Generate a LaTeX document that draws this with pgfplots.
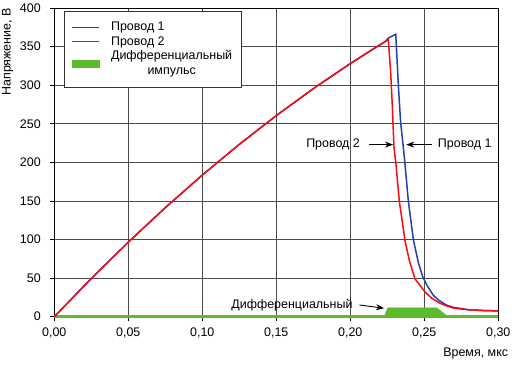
\documentclass[border=0pt]{standalone}
\usepackage{fontspec}
\setmainfont{Liberation Sans}
\usepackage{pgfplots}
\pgfplotsset{compat=1.18}
\usetikzlibrary{arrows.meta}
\definecolor{pblue}{RGB}{35,65,170}
\definecolor{pred}{RGB}{250,10,20}
\definecolor{pgreen}{RGB}{90,187,45}
\begin{document}
\begin{tikzpicture}[font=\fontsize{12.5}{15}\selectfont]
\begin{axis}[
  scale only axis, width=444bp, height=308.7bp,
  xmin=0, xmax=0.3, ymin=0, ymax=400,
  xtick={0,0.05,0.1,0.15,0.2,0.25,0.3},
  ytick={0,50,100,150,200,250,300,350,400},
  grid=major, major grid style={black!70, line width=0.6bp},
  axis line style={black, line width=0.6bp},
  tick align=outside, tick pos=left, major tick length=4bp,
  tick style={black, line width=0.6bp},
  scaled x ticks=false,
  xticklabel style={/pgf/number format/.cd, fixed, fixed zerofill, precision=2, use comma, assume math mode=true, /tikz/.cd, yshift=-4bp},
  yticklabel style={/pgf/number format/assume math mode=true, xshift=-6bp},
  xlabel={Время, мкс}, ylabel={Напряжение, В},
  xlabel style={at={(axis description cs:1.0225,-0.119)}, anchor=east, inner sep=0pt},
  ylabel style={at={(axis description cs:-0.092,1)}, anchor=south east, inner sep=0pt},
  legend style={at={(axis description cs:0.0218,0.99)}, anchor=north west, draw=black!80, line width=0.6bp, fill=white,
    font=\fontsize{12.5}{15}\selectfont, cells={align=center}, row sep=0bp, inner xsep=7bp, inner ysep=9bp},
  legend cell align=left,
  legend image code/.code={\draw[#1, line width=1.8bp] (0bp,0bp) -- (27bp,0bp);},
  clip=false,
]
\addplot[fill=pgreen, draw=pgreen, line width=0.5bp, forget plot] coordinates {
(0,0) (0.2230,0) (0.2253,11.5) (0.2584,11.5) (0.2660,0) (0.3,0) };
\addplot[pgreen, line width=3.3bp, forget plot] coordinates {(0,0) (0.3,0)};
\addplot[draw=pblue, line width=1.5bp] coordinates {
(0,0) (0.025,49.5) (0.05,96.6) (0.075,141.3) (0.10,183.5) (0.125,223.3) (0.15,260.6) (0.175,295.5) (0.20,328) (0.215,346.3) (0.2234,356.2) (0.2257,361) (0.2307,366)
(0.2325,299) (0.2340,252) (0.2358,220) (0.2370,197) (0.2392,150) (0.2426,100) (0.2460,70) (0.2489,52) (0.2520,40) (0.2560,28) (0.2600,21) (0.2650,15) (0.2700,12) (0.2800,9) (0.2900,8) (0.3000,7.5) };
\addlegendentry{\hspace*{9bp}Провод 1}
\addplot[draw=pred, line width=1.5bp] coordinates {
(0,0) (0.025,49.5) (0.05,96.6) (0.075,141.3) (0.10,183.5) (0.125,223.3) (0.15,260.6) (0.175,295.5) (0.20,328) (0.215,346.3) (0.2257,359)
(0.2273,316) (0.2284,273) (0.2295,220) (0.2309,197) (0.2331,150) (0.2370,98) (0.2400,72) (0.2437,49) (0.2505,32) (0.2550,24) (0.2600,18) (0.2650,14) (0.2700,11) (0.2800,9) (0.2900,8) (0.3000,7.5) };
\addlegendentry{\hspace*{9bp}Провод 2}
\addlegendimage{legend image code/.code={\fill[pgreen] (0bp,-3.5bp) rectangle (27bp,3.5bp);}}
\addlegendentry{\hspace*{9bp}Дифференциальный\\\hspace*{9bp}импульс}
\draw[-{Stealth[length=8bp,width=6bp]}, line width=0.9bp] (axis cs:0.2128,223) -- (axis cs:0.2289,223);
\node[anchor=east, inner sep=0pt] at (axis cs:0.2066,223) {Провод 2};
\draw[-{Stealth[length=8bp,width=6bp]}, line width=0.9bp] (axis cs:0.2550,223) -- (axis cs:0.2378,223);
\node[anchor=west, inner sep=0pt] at (axis cs:0.2591,223) {Провод 1};
\draw[-{Stealth[length=8bp,width=6bp]}, line width=0.9bp] (axis cs:0.2061,15.2) -- (axis cs:0.2228,11);
\node[anchor=east, inner sep=0pt] at (axis cs:0.2016,15.2) {Дифференциальный};
\end{axis}
\pgfresetboundingbox
\path (current axis.south west) ++(-54.3bp,-48.3bp) rectangle ++(515bp,365bp);
\end{tikzpicture}
\end{document}
